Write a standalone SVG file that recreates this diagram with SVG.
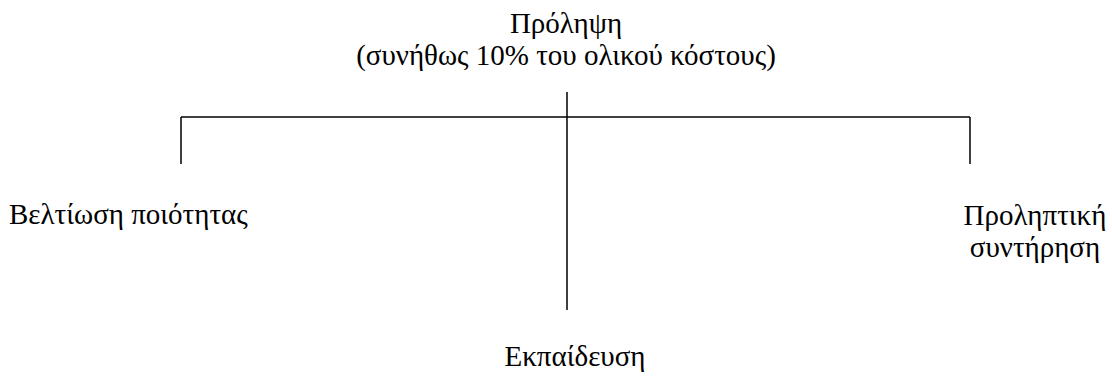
<svg xmlns="http://www.w3.org/2000/svg" width="1112" height="377" viewBox="0 0 1112 377">
<defs>
<style type="text/css">
.t{font-family:'Liberation Serif','Times New Roman',serif;font-size:29px;fill:#000}
.c{stroke:#000;stroke-width:1.5;fill:none}
</style>
</defs>
<rect width="1112" height="377" fill="#fff"/>
<g id="connectors">
<line class="c" x1="567" y1="92" x2="567" y2="310"/>
<line class="c" x1="181" y1="117" x2="970" y2="117"/>
<line class="c" x1="181" y1="117" x2="181" y2="164"/>
<line class="c" x1="970" y1="117" x2="970" y2="164"/>
</g>
<g id="root">
<text class="t" x="566" y="33" text-anchor="middle">Πρόληψη</text>
<text class="t" x="566" y="65" text-anchor="middle">(συνήθως 10% του ολικού κόστους)</text>
</g>
<g id="quality">
<text class="t" x="9" y="224">Βελτίωση ποιότητας</text>
</g>
<g id="maintenance">
<text class="t" x="1035" y="225" text-anchor="middle">Προληπτική</text>
<text class="t" x="1035" y="257" text-anchor="middle">συντήρηση</text>
</g>
<g id="training">
<text class="t" x="575" y="366" text-anchor="middle">Εκπαίδευση</text>
</g>
</svg>
